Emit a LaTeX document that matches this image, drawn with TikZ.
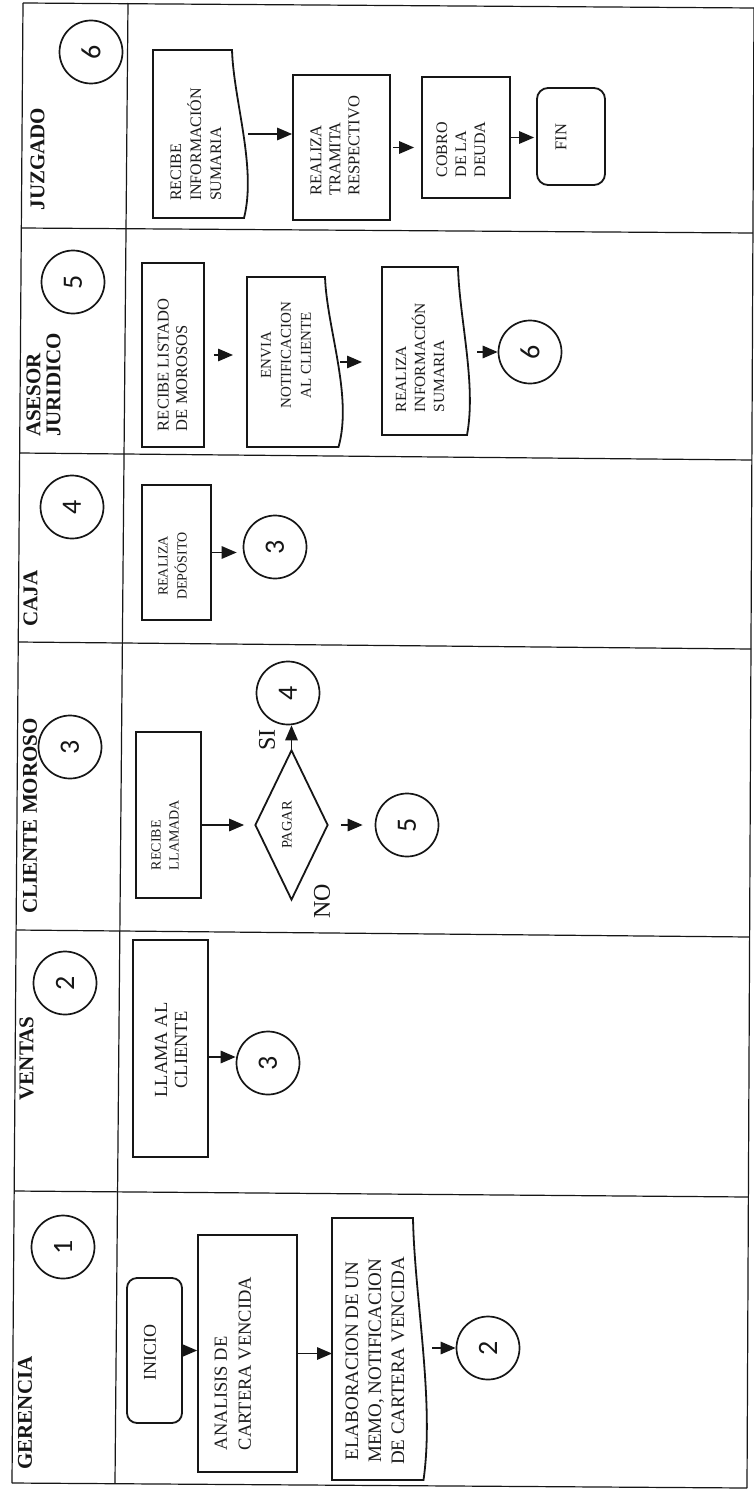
\documentclass[tikz,border=0pt]{standalone}
\usepackage{fontspec}
\setmainfont{Liberation Serif}
\newfontfamily\digitfont{Carlito}
\usetikzlibrary{shapes.geometric,arrows.meta,calc}
\definecolor{ink}{HTML}{161616}
\definecolor{textink}{HTML}{1C1C1C}
\newcommand\setfs[2]{\fontsize{#1}{#2}\selectfont}
% document symbol: name, left, top, right (bulge), bottom, dent of the wavy edge
\newcommand\docshape[6]{%
  \draw[boxline] (#2,#5) -- (#2,#3) -- ({#4-#6},#3)
    .. controls ({#4-0.9*#6},{#3+0.3*(#5-#3)}) and ({#4+0.55*#6},{#3+0.7*(#5-#3)})
    .. ({#4-0.25*#6},#5) -- cycle;
  \node[ghost, minimum width={(#4-#2)*1pt}, minimum height={(#5-#3)*1pt}] (#1)
    at ({(#2+#4)/2},{(#3+#5)/2}) {};}
\begin{document}
\begin{tikzpicture}[x=1pt,y=-1pt,
  frame/.style={draw=ink, line width=1.2pt},
  boxline/.style={draw=ink, line width=1.8pt, line join=miter},
  procbox/.style={rectangle, boxline, inner sep=0pt},
  ghost/.style={rectangle, draw=none, inner sep=0pt, outer sep=0pt},
  decision/.style={diamond, boxline, inner sep=0pt, aspect=0.49},
  conn/.style={circle, draw=ink, line width=1.7pt, minimum size=63pt, inner sep=0pt,
    font=\digitfont\setfs{28}{28}, text=ink},
  txt/.style={rotate=90, inner sep=0pt, text=textink},
  lane/.style={rotate=90, inner sep=0pt, text=ink, font=\bfseries\setfs{21}{20}},
  arr/.style={draw=ink, line width=1.5pt, -{Triangle[length=15pt,width=12.5pt]}}]
\useasboundingbox[fill=white] (0,0) rectangle (753,1493);

% outer frame, header column and lane separators
\draw[frame] (12,1483) -- (747,1488);
\draw[frame] (23,3) -- (754,8);
\draw[frame] (12,1483) -- (23,3);
\draw[frame] (747,1488) -- (754,8);
\draw[frame] (115,1483) -- (128,3);
\draw[frame] (14.2,1191) -- (748.4,1197);
\draw[frame] (16.1,930) -- (749.6,937);
\draw[frame] (18.2,642) -- (751,649);
\draw[frame] (19.7,453) -- (751.9,460);
\draw[frame] (21.3,228) -- (752.9,233);

% lane titles with their connector numbers
\node[lane] (l-ger) at (25,1413) {GERENCIA};
\node[conn] (c1) at (63,1247) {\rotatebox{90}{1}};
\node[lane] (l-ven) at (26.5,1058.5) {VENTAS};
\node[conn] (c2) at (65,983) {\rotatebox{90}{2}};
\node[lane] (l-cli) at (30,816) {CLIENTE MOROSO};
\node[conn] (c3) at (70,747) {\rotatebox{90}{3}};
\node[lane] (l-caja) at (30.5,598.5) {CAJA};
\node[conn] (c4) at (72,507) {\rotatebox{90}{4}};
\node[lane, align=left] (l-ase) at (43.5,385) {ASESOR\\JURIDICO};
\node[conn] (c5) at (73,282) {\rotatebox{90}{5}};
\node[lane] (l-juz) at (37.5,159) {JUZGADO};
\node[conn] (c6) at (91,52) {\rotatebox{90}{6}};

% GERENCIA
\node[procbox, rounded corners=10pt, minimum width=55pt, minimum height=145pt] (inicio) at (154.5,1350.5) {};
\node[txt, font=\setfs{18}{22}] (t-inicio) at (150,1352) {INICIO};
\node[procbox, minimum width=99pt, minimum height=237pt] (analisis) at (247.5,1353.5) {};
\node[txt, align=left, font=\setfs{18.5}{24}] (t-analisis) at (233,1363.5) {ANALISIS DE\\CARTERA VENCIDA};
\docshape{elab}{332}{1218}{427}{1480}{14}
\node[txt, align=center, font=\setfs{19}{23}] (t-elab) at (375,1361) {ELABORACION DE UN\\MEMO, NOTIFICACION\\DE CARTERA VENCIDA};
\node[conn] (c2a) at (488,1348) {\rotatebox{90}{2}};
\draw[arr] (inicio.east) -- (inicio.east -| analisis.west);
\draw[arr] (analisis.east) -- (analisis.east -| elab.west);
\draw[arr, shorten <=5pt] (elab.east |- c2a) -- (c2a);

% VENTAS
\node[procbox, minimum width=75pt, minimum height=217pt] (llama) at (170.5,1048.5) {};
\node[txt, align=center, font=\setfs{18.5}{20}] (t-llama) at (171,1050) {LLAMA AL\\CLIENTE};
\node[conn] (c3a) at (268,1063) {\rotatebox{90}{3}};
\coordinate (a-llama) at ([yshift=-8.5pt]llama.east);
\draw[arr] (a-llama) -- (a-llama -| c3a.west);

% CLIENTE MOROSO
\node[procbox, minimum width=65pt, minimum height=166pt] (recibe) at (168.5,815) {};
\node[txt, align=left, font=\setfs{14}{18}] (t-recibe) at (165,835) {RECIBE\\LLAMADA};
\node[decision, minimum width=73pt, minimum height=150pt] (pagar) at (291.5,825) {};
\node[txt, font=\setfs{14.5}{16}] (t-pagar) at (287,825) {PAGAR};
\node[txt, text=ink, font=\setfs{24}{24}] (t-si) at (267,740) {SI};
\node[txt, text=ink, font=\setfs{24}{24}] (t-no) at (322,901) {NO};
\node[conn] (c4a) at (288,693) {\rotatebox{90}{4}};
\node[conn] (c5a) at (407,825) {\rotatebox{90}{5}};
\draw[arr, shorten >=10pt] (recibe.east |- pagar.west) -- (pagar.west);
\draw[arr] (pagar.north) -- (pagar.north |- c4a.south);
\draw[arr, shorten <=12pt, shorten >=12pt] (pagar.east) -- (pagar.east -| c5a.west);

% CAJA
\node[procbox, minimum width=69pt, minimum height=135pt] (deposito) at (176.5,552.5) {};
\node[txt, align=center, font=\setfs{14}{19}] (t-deposito) at (172.5,566) {REALIZA\\DEPÓSITO};
\node[conn] (c3b) at (275,547) {\rotatebox{90}{3}};
\draw[arr, shorten >=6pt] (deposito.east) -- (deposito.east -| c3b.west);

% ASESOR JURIDICO
\node[procbox, minimum width=62pt, minimum height=184pt] (listado) at (173,355) {};
\node[txt, align=left, font=\setfs{16.5}{18.5}] (t-listado) at (172.5,365) {RECIBE LISTADO\\DE MOROSOS};
\docshape{envia}{247}{277}{343}{447}{18}
\node[txt, align=center, font=\setfs{15}{20}] (t-envia) at (286,355) {ENVIA\\NOTIFICACION\\AL CLIENTE};
\docshape{realiza}{382}{267}{470}{435}{12}
\node[txt, align=left, font=\setfs{15.5}{19}] (t-realiza) at (420,357.5) {REALIZA\\INFORMACIÓN\\SUMARIA};
\node[conn] (c6a) at (530,352) {\rotatebox{90}{6}};
\draw[arr, shorten <=9pt, shorten >=14pt] (listado.east) -- (listado.east -| envia.west);
\draw[arr, shorten <=-3pt, shorten >=20pt] (envia.east) -- (envia.east -| realiza.west);
\draw[arr, shorten <=7pt] (realiza.east |- c6a) -- (c6a);

% JUZGADO
\docshape{recinfo}{153}{50}{248}{218}{16}
\node[txt, align=left, font=\setfs{16}{20}] (t-recinfo) at (196,144.5) {RECIBE\\INFORMACIÓN\\SUMARIA};
\node[procbox, minimum width=97pt, minimum height=145pt] (tramita) at (341.5,147.5) {};
\node[txt, align=left, font=\setfs{16.5}{19}] (t-tramita) at (335,146) {REALIZA\\TRAMITA\\RESPECTIVO};
\node[procbox, minimum width=88pt, minimum height=121pt] (cobro) at (466,137.5) {};
\node[txt, align=left, font=\setfs{16}{19}] (t-cobro) at (461,149.5) {COBRO\\DE LA\\DEUDA};
\node[procbox, rounded corners=11pt, minimum width=68pt, minimum height=97pt] (fin) at (571,136.5) {};
\node[txt, font=\setfs{16.5}{18}] (t-fin) at (561,137) {FIN};
\draw[arr] (recinfo.east) -- (recinfo.east -| tramita.west);
\draw[arr, shorten <=2pt, shorten >=7pt] (tramita.east) -- (tramita.east -| cobro.west);
\draw[arr, shorten >=2pt] (cobro.east) -- (cobro.east -| fin.west);
\end{tikzpicture}
\end{document}
